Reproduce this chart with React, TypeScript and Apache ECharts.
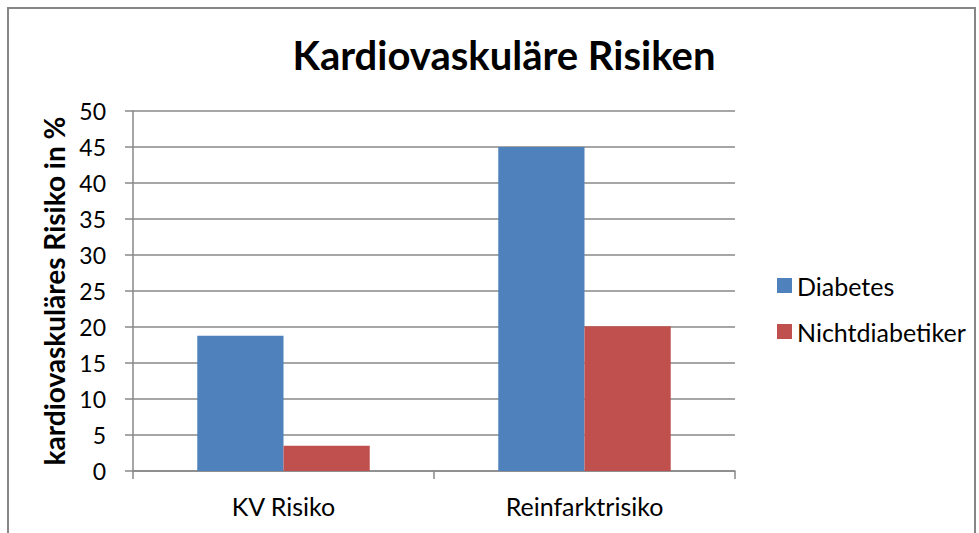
import React, { useEffect, useRef } from "react";
import * as echarts from "echarts";

const categories = ["KV Risiko", "Reinfarktrisiko"];
const diabetes = [18.8, 45];
const nichtdiabetiker = [3.5, 20.1];
const seriesNames = ["Diabetes", "Nichtdiabetiker"];
const titleText = "Kardiovaskuläre Risiken";
const yAxisName = "kardiovaskuläres Risiko in %";

const FONT = "Lato, 'Open Sans', sans-serif";

export default function App() {
  const ref = useRef<HTMLDivElement>(null);
  useEffect(() => {
    if (!ref.current) return;
    const chart = echarts.init(ref.current, null, { renderer: "svg" });
    chart.setOption({
      animation: false,
      backgroundColor: "#ffffff",
      textStyle: { fontFamily: FONT },
      title: {
        text: titleText,
        left: 499,
        top: 30,
        textAlign: "center",
        textStyle: { fontFamily: FONT, fontSize: 40, fontWeight: "bold", color: "#000" },
      },
      graphic: [
        {
          type: "rect",
          shape: { x: 8, y: 8, width: 967, height: 560 },
          style: { fill: "none", stroke: "#868686", lineWidth: 2 },
          silent: true,
        },
      ],
      legend: {
        orient: "vertical",
        left: 777,
        top: 273,
        padding: 0,
        itemWidth: 15,
        itemHeight: 15,
        itemGap: 21,
        icon: "rect",
        textStyle: { fontFamily: FONT, fontSize: 25, color: "#000" },
        data: seriesNames,
      },
      grid: { left: 133, right: 244, top: 111, bottom: 62 },
      xAxis: {
        type: "category",
        data: categories,
        axisLine: { lineStyle: { color: "#888", width: 1.5 } },
        axisTick: { show: true, length: 8, lineStyle: { color: "#888", width: 1.5 } },
        axisLabel: { fontFamily: FONT, fontSize: 25, color: "#000", margin: 22 },
      },
      yAxis: {
        type: "value",
        min: 0,
        max: 50,
        interval: 5,
        name: yAxisName,
        nameLocation: "middle",
        nameGap: 56,
        nameTextStyle: { fontFamily: FONT, fontSize: 28, fontWeight: "bold", color: "#000" },
        axisLine: { show: true, lineStyle: { color: "#888", width: 1.5 } },
        axisTick: { show: true, length: 8, lineStyle: { color: "#888", width: 1.5 } },
        axisLabel: { fontFamily: FONT, fontSize: 23, color: "#000", margin: 27 },
        splitLine: { show: true, lineStyle: { color: "#888", width: 1.5 } },
      },
      series: [
        {
          name: seriesNames[0],
          type: "bar",
          data: diabetes,
          itemStyle: { color: "#4F81BD" },
          barGap: "0%",
          barCategoryGap: "42.7%",
        },
        {
          name: seriesNames[1],
          type: "bar",
          data: nichtdiabetiker,
          itemStyle: { color: "#C0504D" },
          barGap: "0%",
          barCategoryGap: "42.7%",
        },
      ],
    });
    return () => chart.dispose();
  }, []);
  return (
    <div
      ref={ref}
      style={{ position: "absolute", left: 0, top: 0, width: 979, height: 533 }}
    />
  );
}
